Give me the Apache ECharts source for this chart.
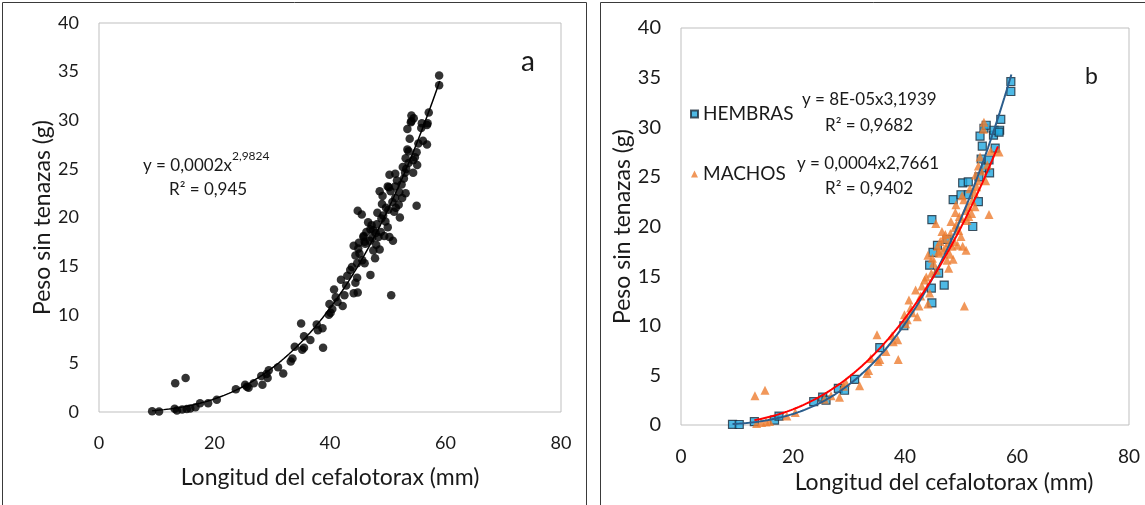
<!DOCTYPE html>
<html>
<head>
<meta charset="utf-8">
<script src="https://cdn.jsdelivr.net/npm/echarts@6/dist/echarts.min.js"></script>
<style>
  html, body { margin: 0; padding: 0; background: #ffffff; }
  #chart { width: 1145px; height: 505px; }
</style>
</head>
<body>
<div id="chart"></div>
<script>
// Cephalothorax length (mm) vs. weight without claws (g)
const hembras = [
  [9.2, 0.07], [10.4, 0.05], [13.1, 0.33], [16.7, 0.5], [17.5, 0.9],
  [23.7, 2.35], [25.3, 2.8], [25.9, 2.5], [28.1, 3.7], [29.2, 3.5],
  [31.0, 4.6], [35.5, 7.8], [39.8, 10.0], [44.8, 20.7], [44.8, 12.3],
  [44.7, 13.8], [44.4, 16.1], [45.0, 17.4], [45.8, 18.1], [46.0, 15.3],
  [47.0, 14.1], [47.5, 18.7], [48.6, 22.7], [50.0, 23.2], [50.3, 24.4],
  [51.3, 24.5], [51.3, 23.2], [52.1, 20.0], [53.1, 22.5], [53.2, 25.0],
  [53.4, 29.1], [53.8, 28.1], [53.6, 26.8], [54.1, 29.9], [54.5, 30.2],
  [54.4, 25.9], [55.1, 25.4], [55.0, 26.7], [55.8, 29.2], [55.9, 29.7],
  [56.1, 27.9], [56.9, 29.7], [56.8, 29.5], [57.1, 30.8], [58.9, 34.6],
  [58.9, 33.6]
];
const machos = [
  [13.2, 2.95], [15.0, 3.5], [13.5, 0.15], [14.4, 0.25], [15.2, 0.3],
  [15.8, 0.35], [18.9, 0.9], [20.4, 1.25], [25.6, 2.6], [26.8, 2.95],
  [28.3, 2.8], [29.4, 4.3], [29.0, 3.9], [31.9, 3.95], [33.2, 5.2],
  [33.5, 5.5], [33.9, 6.7], [35.0, 9.1], [35.2, 6.4], [35.5, 6.6],
  [36.6, 7.4], [37.7, 9.0], [37.9, 8.4], [38.7, 8.6], [38.8, 6.6],
  [39.9, 11.1], [40.4, 10.6], [40.7, 12.6], [41.3, 11.3], [41.9, 13.6],
  [42.2, 10.9], [42.5, 12.0], [42.8, 13.0], [43.5, 14.6], [43.8, 14.9],
  [44.1, 17.1], [44.1, 12.2], [44.4, 13.3], [44.7, 15.3], [45.1, 16.3],
  [45.5, 20.3], [45.6, 15.6], [46.1, 17.3], [46.6, 19.5], [46.9, 17.6],
  [47.5, 16.6], [47.8, 15.8], [48.1, 19.3], [48.4, 18.0], [48.6, 16.7],
  [48.9, 19.9], [49.1, 22.2], [49.4, 18.1], [49.7, 21.0], [50.0, 19.0],
  [50.3, 18.0], [50.5, 22.7], [50.6, 12.0], [50.9, 17.6], [51.1, 20.6],
  [51.3, 22.0], [51.6, 23.8], [51.9, 21.3], [52.4, 23.4], [52.5, 22.0],
  [52.6, 25.2], [52.8, 24.0], [53.1, 26.1], [53.4, 27.0], [54.1, 30.5],
  [54.4, 24.6], [54.7, 26.2], [55.0, 21.2], [55.3, 27.6], [56.8, 27.5],
  [43.0, 14.0], [44.9, 16.8], [45.8, 18.0], [46.3, 18.5], [47.0, 18.8],
  [47.3, 17.9], [47.9, 18.4], [48.2, 20.5], [48.8, 18.5], [49.2, 20.2],
  [49.6, 19.6], [50.1, 20.8], [50.8, 21.6], [51.4, 21.0], [52.0, 22.6],
  [53.0, 24.6], [53.6, 25.6], [54.0, 29.8], [40.1, 10.2], [41.0, 11.8],
  [46.0, 17.5], [47.2, 19.2], [48.0, 17.2], [49.0, 21.4], [50.2, 23.1]
];
// Panel a pools both sexes
const todos = hembras.concat(machos);

// Axis ranges and tick steps
const xTickValues = [0, 20, 40, 60, 80];
const yTickValues = [0, 5, 10, 15, 20, 25, 30, 35, 40];

// Potential fits y = a * x^b (unrounded a; the labels show it rounded)
const fitTodos = { a: 0.000178, b: 2.9824, from: 9.2, to: 59.0 };
const fitHembras = { a: 0.000078, b: 3.1939, from: 9.2, to: 59.0 };
const fitMachos = { a: 0.000398, b: 2.7661, from: 13.1, to: 56.6 };

// Text shown on the panels
const eqTodos = ['y = 0,0002x', '2,9824', 'R² = 0,945'];
const eqHembras = ['y = 8E-05x3,1939', 'R² = 0,9682'];
const eqMachos = ['y = 0,0004x2,7661', 'R² = 0,9402'];

function fitCurve(f) {
  const pts = [];
  const n = 120;
  for (let i = 0; i <= n; i++) {
    const x = f.from + (f.to - f.from) * i / n;
    pts.push([x, f.a * Math.pow(x, f.b)]);
  }
  return pts;
}

const FONT = 'Lato, "Open Sans", sans-serif';
const TXT = '#1a1a1a';

function xAxisCfg(gridIndex, fontSize, nameGap, namePad) {
  return {
    gridIndex, type: 'value',
    min: xTickValues[0], max: xTickValues[xTickValues.length - 1],
    interval: xTickValues[1] - xTickValues[0],
    axisLine: { show: false }, axisTick: { show: false }, splitLine: { show: false },
    axisLabel: { color: TXT, fontFamily: FONT, fontSize, margin: 22 },
    name: 'Longitud del cefalotorax (mm)', nameLocation: 'middle', nameGap,
    nameTextStyle: { color: TXT, fontFamily: FONT, fontSize: 23, padding: namePad }
  };
}
function yAxisCfg(gridIndex, fontSize, nameGap) {
  return {
    gridIndex, type: 'value',
    min: yTickValues[0], max: yTickValues[yTickValues.length - 1],
    interval: yTickValues[1] - yTickValues[0],
    axisLine: { show: false }, axisTick: { show: false }, splitLine: { show: false },
    axisLabel: { color: TXT, fontFamily: FONT, fontSize, margin: 20 },
    name: 'Peso sin tenazas (g)', nameLocation: 'middle', nameGap,
    nameTextStyle: { color: TXT, fontFamily: FONT, fontSize: 23 }
  };
}

const chart = echarts.init(document.getElementById('chart'), null, { renderer: 'canvas' });
chart.setOption({
  backgroundColor: '#ffffff',
  animation: false,
  grid: [
    { left: 99, top: 23, width: 462, height: 389, show: true, borderColor: '#BFBFBF', borderWidth: 1, backgroundColor: 'transparent' },
    { left: 681, top: 28, width: 448, height: 397, show: true, borderColor: '#BFBFBF', borderWidth: 1, backgroundColor: 'transparent' }
  ],
  xAxis: [xAxisCfg(0, 18, 54, [0, 0, 0, 0]), xAxisCfg(1, 19, 44, [0, 0, 0, 78])],
  yAxis: [yAxisCfg(0, 18, 42), yAxisCfg(1, 20, 45)],
  legend: {
    data: ['HEMBRAS', 'MACHOS'],
    orient: 'vertical', left: 685, top: 99, itemGap: 40,
    itemWidth: 7, itemHeight: 7, selectedMode: false,
    textStyle: { color: TXT, fontFamily: FONT, fontSize: 19, lineHeight: 20 }
  },
  series: [
    {
      name: 'Todos', type: 'scatter', xAxisIndex: 0, yAxisIndex: 0,
      data: todos, symbol: 'circle', symbolSize: 8.5,
      itemStyle: { color: '#000000' }
    },
    {
      name: 'Ajuste todos', type: 'line', xAxisIndex: 0, yAxisIndex: 0,
      data: fitCurve(fitTodos), showSymbol: false, smooth: false,
      lineStyle: { color: '#000000', width: 1.5 }
    },
    {
      name: 'HEMBRAS', type: 'scatter', xAxisIndex: 1, yAxisIndex: 1,
      data: hembras, symbol: 'rect', symbolSize: 8,
      itemStyle: { color: '#22A7DF', borderColor: '#1C2A3A', borderWidth: 1.2 }
    },
    {
      name: 'MACHOS', type: 'scatter', xAxisIndex: 1, yAxisIndex: 1,
      data: machos, symbol: 'triangle', symbolSize: 9,
      itemStyle: { color: '#ED7D31' }
    },
    {
      name: 'Ajuste hembras', type: 'line', xAxisIndex: 1, yAxisIndex: 1,
      data: fitCurve(fitHembras), showSymbol: false,
      lineStyle: { color: '#2B5D8C', width: 2 }
    },
    {
      name: 'Ajuste machos', type: 'line', xAxisIndex: 1, yAxisIndex: 1,
      data: fitCurve(fitMachos), showSymbol: false,
      lineStyle: { color: '#FF0000', width: 2 }
    }
  ],
  graphic: [
    // Panel frames
    { type: 'rect', shape: { x: 2.5, y: 2.5, width: 584, height: 520 }, style: { fill: 'none', stroke: '#3A3A3A', lineWidth: 1 }, silent: true },
    { type: 'rect', shape: { x: 600.5, y: 2.5, width: 560, height: 520 }, style: { fill: 'none', stroke: '#3A3A3A', lineWidth: 1 }, silent: true },
    // Panel letters
    { type: 'text', left: 521, top: 48, style: { text: 'a', fill: TXT, font: '28px ' + FONT } },
    { type: 'text', left: 1085, top: 65, style: { text: 'b', fill: TXT, font: '23px ' + FONT } },
    // Fit equations, panel a
    {
      type: 'text', left: 143, top: 150,
      style: {
        text: '{m|' + eqTodos[0] + '}{s|' + eqTodos[1] + '}',
        rich: {
          m: { fontFamily: FONT, fontSize: 17, fill: TXT, lineHeight: 24, verticalAlign: 'bottom' },
          s: { fontFamily: FONT, fontSize: 12, fill: TXT, lineHeight: 24, verticalAlign: 'top' }
        }
      }
    },
    { type: 'text', left: 169, top: 181, style: { text: eqTodos[2], fill: TXT, font: '17px ' + FONT } },
    // Fit equations, panel b
    { type: 'text', left: 802, top: 91, style: { text: eqHembras[0], fill: TXT, font: '17px ' + FONT } },
    { type: 'text', left: 825, top: 117, style: { text: eqHembras[1], fill: TXT, font: '17px ' + FONT } },
    { type: 'text', left: 797, top: 155, style: { text: eqMachos[0], fill: TXT, font: '17px ' + FONT } },
    { type: 'text', left: 825, top: 180, style: { text: eqMachos[1], fill: TXT, font: '17px ' + FONT } }
  ]
});
</script>
</body>
</html>
